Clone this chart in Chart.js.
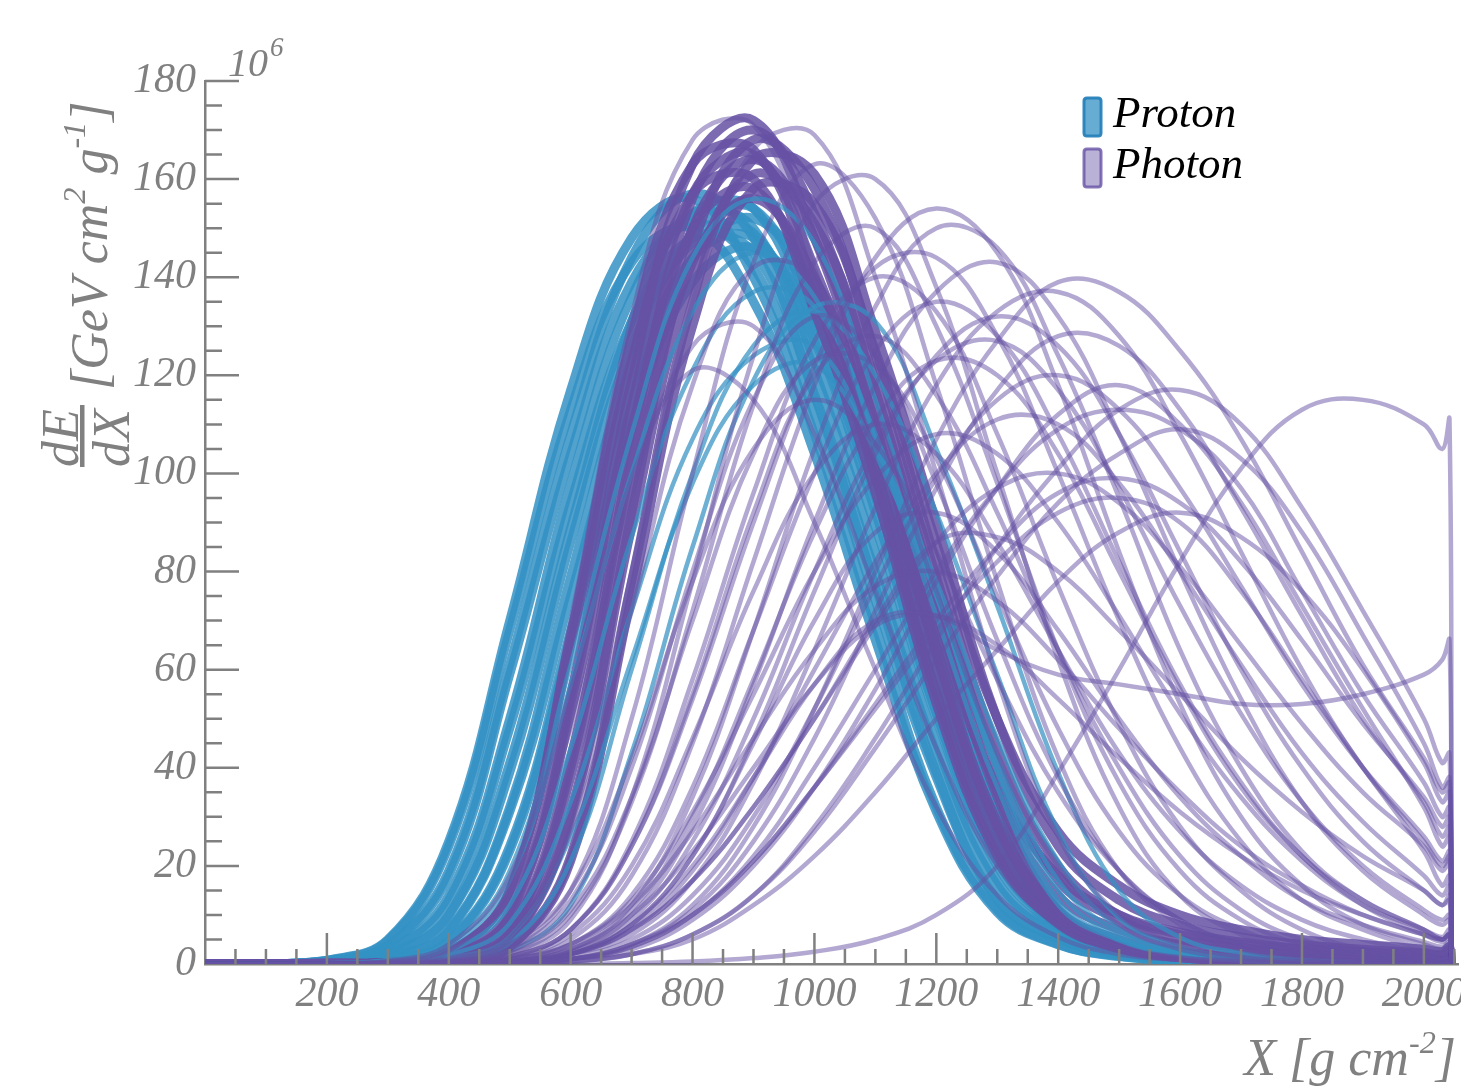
<!DOCTYPE html>
<html>
<head>
<meta charset="utf-8">
<script src="https://cdn.jsdelivr.net/npm/chart.js@4.4.1/dist/chart.umd.min.js"></script>
<style>
  html, body { margin: 0; padding: 0; background: #fff; }
  #wrap { width: 1461px; height: 1088px; position: relative; }
</style>
</head>
<body>
<div id="wrap"><canvas id="profiles"></canvas></div>
<script>
// depth grid (g cm^-2); every profile row below has one value per grid point
const xGrid = [0, 100, 200, 300, 400, 500, 600, 700, 800, 900, 1000, 1100, 1200, 1300, 1400,
  1500, 1600, 1700, 1800, 1900, 2000, 2030, 2042, 2045];

const xTickValues = [200, 400, 600, 800, 1000, 1200, 1400, 1600, 1800, 2000];
const yTickValues = [0, 20, 40, 60, 80, 100, 120, 140, 160, 180];

// dE/dX in units of 1e6 GeV cm^2 g^-1
const protonBand = [
  [0, 0, 0.8, 5, 25, 70, 117, 148, 156, 140, 108, 69, 32, 11, 4, 1.6, 0.6, 0.2, 0, 0, 0, 0, 0, 0],
  [0, 0, 0.7, 4.8, 24, 68, 113, 143, 150, 135, 104, 66, 31, 10.5, 3.9, 1.5, 0.6, 0.2, 0, 0, 0, 0, 0, 0],
  [0, 0, 0.6, 3.9, 19, 61, 108, 144, 157, 148, 116, 77, 39, 13, 5.2, 2, 0.8, 0.2, 0, 0, 0, 0, 0, 0],
  [0, 0, 0.6, 3.8, 18, 59, 104, 139, 151, 142, 112, 74, 38, 13, 5, 2, 0.8, 0.2, 0, 0, 0, 0, 0, 0],
  [0, 0, 0.5, 2.9, 14, 50, 98, 136, 153, 150, 121, 84, 45, 17, 6.2, 2.5, 0.9, 0.3, 0, 0, 0, 0, 0, 0],
  [0, 0, 0.5, 2.8, 13, 48, 94, 131, 148, 145, 116, 80, 43, 16, 6, 2.4, 0.9, 0.3, 0, 0, 0, 0, 0, 0],
  [0, 0, 0.4, 2.2, 10, 41, 89, 131, 153, 154, 128, 92, 51, 21, 7.8, 3, 1.2, 0.5, 0.2, 0, 0, 0, 0, 0],
  [0, 0, 0.4, 2.1, 9.8, 39, 86, 126, 147, 149, 123, 89, 50, 20, 7.5, 2.9, 1.2, 0.5, 0.2, 0, 0, 0, 0, 0],
  [0, 0, 0.3, 1.5, 7, 32, 79, 123, 149, 154, 132, 99, 59, 26, 9, 3.4, 1.4, 0.6, 0.2, 0, 0, 0, 0, 0],
  [0, 0, 0.3, 1.5, 6.8, 31, 75, 118, 144, 148, 127, 95, 56, 25, 8.9, 3.3, 1.3, 0.6, 0.2, 0, 0, 0, 0, 0],
  [0, 0, 0.2, 1.1, 4.9, 24, 68, 114, 144, 152, 137, 105, 67, 31, 11, 4, 1.5, 0.6, 0.2, 0, 0, 0, 0, 0],
  [0, 0, 0.1, 1, 4.7, 23, 66, 110, 139, 146, 131, 101, 64, 30, 10, 3.8, 1.5, 0.6, 0.1, 0, 0, 0, 0, 0]
];

const protonLate = [
  [0, 0, 0.1, 0.7, 3.6, 17, 57, 100, 133, 145, 136, 107, 71, 36, 12, 4.8, 1.9, 0.7, 0.2, 0, 0, 0, 0, 0],
  [0, 0, 0.1, 0.6, 2.6, 12, 44, 87, 121, 137, 134, 108, 75, 40, 15, 5.5, 2.2, 0.8, 0.3, 0, 0, 0, 0, 0],
  [0, 0, 0.1, 0.4, 1.8, 8.3, 33, 72, 107, 124, 126, 104, 75, 42, 17, 6.4, 2.4, 1, 0.4, 0.1, 0, 0, 0, 0],
  [0, 0, 0, 0.1, 0.9, 4.3, 21, 60, 100, 126, 133, 120, 92, 59, 27, 9.3, 3.5, 1.3, 0.5, 0.1, 0, 0, 0, 0],
  [0, 0, 0.2, 0.8, 3.9, 19, 61, 108, 144, 156, 147, 115, 76, 39, 13, 5.1, 2, 0.8, 0.2, 0, 0, 0, 0, 0],
  [0, 0, 0, 0.2, 1.2, 5.6, 26, 62, 98, 118, 122, 105, 78, 46, 21, 7.3, 2.7, 1.1, 0.5, 0.1, 0, 0, 0, 0],
  [0, 0, 0, 0.1, 0.5, 2.6, 12, 43, 85, 119, 134, 131, 105, 73, 39, 15, 5.4, 2.2, 0.8, 0.3, 0, 0, 0, 0]
];

const photonBand = [
  [0, 0, 0.2, 0.3, 2.4, 15, 67, 128, 163, 166, 138, 99, 55, 23, 8.4, 3.2, 1.3, 0.5, 0.2, 0, 0, 0, 0, 0],
  [0, 0, 0.2, 0.3, 2.3, 15, 65, 123, 157, 160, 133, 96, 53, 22, 8.1, 3.1, 1.3, 0.5, 0.2, 0, 0, 0, 0, 0],
  [0, 0, 0, 0.3, 1.5, 11, 55, 119, 163, 172, 148, 110, 65, 29, 11, 5, 2.5, 1.5, 1, 0.7, 0.5, 0.4, 0.6, 0],
  [0, 0, 0, 0.2, 1.5, 10, 53, 114, 157, 165, 142, 106, 63, 28, 9.9, 3.6, 1.5, 0.7, 0.2, 0, 0, 0, 0, 0],
  [0, 0, 0, 0.2, 1, 6.8, 42, 105, 156, 170, 153, 117, 75, 35, 14, 7, 4, 2.5, 1.8, 1.3, 1, 0.8, 1.2, 0],
  [0, 0, 0, 0.2, 1, 6.6, 40, 102, 150, 164, 148, 113, 72, 34, 11, 4.3, 1.6, 0.7, 0.2, 0, 0, 0, 0, 0],
  [0, 0, 0, 0.1, 0.7, 4.7, 31, 92, 146, 168, 158, 124, 82, 44, 20, 10, 6, 4, 3, 2.2, 1.6, 1.4, 2, 0],
  [0, 0, 0, 0.1, 0.6, 4.5, 30, 89, 140, 161, 151, 119, 79, 40, 17, 9, 5, 3.3, 2.4, 1.8, 1.3, 1.1, 1.6, 0],
  [0, 0, 0, 0.1, 0.5, 3.5, 22, 78, 135, 164, 161, 129, 90, 50, 24, 13, 8, 5.5, 4, 3, 2.3, 2, 3, 0],
  [0, 0, 0, 0.1, 0.5, 3.4, 21, 75, 130, 158, 155, 125, 86, 50, 27, 16, 10, 7, 5, 4, 3, 2.5, 3.5, 0],
  [0, 0, 0, 0.2, 1.4, 9.8, 51, 109, 150, 158, 136, 101, 60, 27, 9.5, 3.5, 1.4, 0.6, 0.2, 0, 0, 0, 0, 0],
  [0, 0, 0, 0.2, 0.9, 6.2, 38, 97, 143, 156, 140, 108, 69, 36, 18, 10, 6.5, 4.5, 3.2, 2.5, 2, 1.7, 2.5, 0]
];

const photonSpread = [
  [0, 0, 0.2, 0.4, 2.6, 16, 70, 132, 168, 171, 142, 102, 57, 24, 9, 3.5, 1.4, 0.6, 0.2, 0, 0, 0, 0, 0],
  [0, 0, 0, 0.2, 1, 5, 28, 80, 135, 166, 169, 140, 100, 58, 26, 10, 4, 1.5, 0.5, 0.2, 0, 0, 0, 0],
  [0, 0, 0, 0, 0.5, 3, 15, 50, 100, 143, 163, 152, 118, 78, 42, 19, 8, 3, 1.2, 0.5, 0.2, 0.1, 0.2, 0],
  [0, 0, 0, 0, 0.3, 2, 9, 34, 78, 124, 155, 160, 138, 100, 62, 32, 14, 6, 2.5, 1, 0.5, 0.3, 0.5, 0],
  [0, 0, 0, 0, 0.2, 1, 5, 18, 45, 82, 118, 144, 154, 145, 118, 84, 53, 30, 16, 8, 4, 3, 4, 0],
  [0, 0, 0, 0, 0, 0.5, 3, 12, 34, 68, 105, 134, 150, 146, 124, 95, 64, 40, 23, 13, 7, 5, 6, 0],
  [0, 0, 0, 0, 0, 0.3, 1, 4, 12, 28, 52, 80, 107, 127, 139, 137, 125, 107, 84, 61, 42, 35, 37, 0],
  [0, 0, 0, 0, 0, 0.5, 2, 6, 17, 37, 64, 93, 118, 133, 137, 128, 108, 84, 60, 40, 25, 20, 22, 0],
  [0, 0, 0, 0, 0.3, 1.5, 7, 24, 54, 90, 122, 142, 144, 128, 100, 70, 44, 25, 13, 7, 3, 2, 3, 0],
  [0, 0, 0, 0, 0, 0.5, 2.5, 10, 28, 57, 90, 118, 137, 143, 132, 108, 80, 54, 33, 19, 10, 8, 9, 0],
  [0, 0, 0, 0, 0.5, 3, 13, 40, 80, 115, 132, 124, 98, 66, 38, 19, 9, 4, 1.5, 0.6, 0.3, 0.2, 0.3, 0],
  [0, 0, 0, 0, 0.3, 1.5, 7, 24, 55, 92, 120, 128, 116, 92, 64, 40, 22, 11, 5, 2.5, 1, 0.8, 1.2, 0],
  [0, 0, 0, 0, 0, 0.6, 3, 11, 30, 58, 88, 111, 123, 120, 104, 80, 56, 36, 22, 12, 6, 4.5, 5.5, 0],
  [0, 0, 0, 0, 0, 0.4, 2, 8, 22, 46, 76, 104, 124, 132, 126, 108, 84, 60, 40, 25, 15, 12, 13, 0],
  [0, 0, 0, 0, 0, 0, 0.5, 2, 6, 14, 28, 46, 66, 85, 101, 113, 117, 110, 93, 72, 50, 41, 43, 0],
  [0, 0, 0, 0, 0, 0.3, 1, 3.5, 10, 22, 40, 60, 80, 97, 109, 113, 109, 97, 76, 55, 37, 30, 32, 0],
  [0, 0, 0, 0, 0, 0.3, 1, 3.5, 10, 21, 36, 53, 70, 85, 96, 99, 94, 82, 66, 49, 34, 28, 30, 0],
  [0, 0, 0, 0, 0, 0, 0.5, 2, 5, 12, 22, 35, 50, 64, 78, 88, 92, 87, 76, 60, 41, 33, 35, 0],
  [0, 0, 0, 0, 0.2, 1, 4, 12, 27, 46, 64, 77, 80, 74, 62, 48, 35, 24, 16, 10, 6, 5, 6, 0],
  [0, 0, 0, 0, 0, 0.3, 2, 8, 20, 38, 57, 70, 71, 64, 59, 57, 55, 53, 53, 55, 59, 62, 66, 0],
  [0, 0, 0, 0, 0, 0.5, 3, 10, 23, 40, 57, 69, 71, 65, 54, 42, 31, 22, 15, 10, 6, 5, 6, 0],
  [0, 0, 0, 0, 0, 0.3, 2, 7, 17, 32, 50, 70, 86, 87, 80, 68, 55, 42, 31, 22, 15, 12, 14, 0],
  [0, 0, 0, 0, 0, 0, 0, 0.2, 0.5, 1.2, 2.5, 5, 10, 20, 39, 60, 82, 101, 113, 115, 110, 105, 111, 0],
  [0, 0, 0, 0, 0, 0, 0.5, 2, 6, 14, 27, 44, 62, 79, 94, 104, 109, 103, 88, 67, 45, 36, 38, 0],
  [0, 0, 0, 0, 0, 0.3, 1.5, 5, 14, 30, 52, 77, 99, 115, 120, 113, 97, 77, 57, 40, 26, 21, 23, 0],
  [0, 0, 0, 0, 0, 0.5, 2, 7, 19, 38, 60, 82, 100, 111, 110, 98, 80, 61, 43, 29, 18, 14, 16, 0],
  [0, 0, 0, 0, 0, 0.3, 1, 4, 11, 25, 46, 72, 97, 117, 128, 126, 113, 93, 71, 50, 33, 26, 28, 0],
  [0, 0, 0, 0, 0.2, 1, 4, 14, 36, 68, 100, 125, 135, 128, 108, 82, 57, 37, 22, 13, 7, 5, 6, 0],
  [0, 0, 0, 0, 0, 0.5, 2, 7, 17, 32, 50, 69, 86, 97, 100, 94, 81, 65, 49, 35, 24, 19, 21, 0],
  [0, 0, 0, 0, 0.4, 2, 10, 33, 72, 114, 143, 150, 130, 98, 64, 37, 19, 9, 4, 2, 1, 0.8, 1, 0],
  [0, 0, 0, 0, 0.6, 4, 15, 42, 78, 105, 115, 106, 84, 58, 35, 19, 9, 4, 2, 1, 0.4, 0.3, 0.4, 0],
  [0, 0, 0, 0.2, 1.2, 6, 27, 72, 118, 142, 140, 112, 76, 43, 20, 8, 3, 1.2, 0.5, 0.2, 0, 0, 0, 0],
  [0, 0, 0, 0, 0.3, 1.5, 7, 25, 58, 96, 127, 140, 133, 108, 77, 49, 28, 15, 7, 3, 1.5, 1, 1.5, 0],
  [0, 0, 0, 0, 0, 0.2, 1, 3, 9, 20, 36, 56, 78, 97, 112, 118, 110, 94, 73, 52, 32, 24, 26, 0],
  [0, 0, 0, 0, 0, 0.5, 2.5, 9, 25, 50, 80, 106, 123, 127, 117, 97, 73, 51, 33, 20, 11, 9, 10, 0],
  [0, 0, 0, 0, 0.2, 1, 4, 13, 31, 55, 80, 99, 108, 104, 90, 71, 51, 34, 21, 12, 7, 5.5, 7, 0],
  [0, 0, 0, 0, 0.4, 2.5, 11, 34, 70, 104, 123, 122, 103, 75, 48, 27, 14, 7, 3, 1.5, 0.7, 0.5, 0.7, 0],
  [0, 0, 0, 0, 0, 0.3, 1, 4, 10, 21, 36, 52, 68, 82, 92, 95, 90, 76, 58, 40, 23, 16, 18, 0],
  [0, 0, 0.1, 0.5, 3, 14, 48, 96, 126, 130, 108, 76, 44, 20, 8, 3, 1.2, 0.5, 0.2, 0, 0, 0, 0, 0],
  [0, 0, 0.1, 0.6, 4, 18, 56, 99, 121, 115, 90, 60, 32, 14, 5.5, 2, 0.8, 0.3, 0, 0, 0, 0, 0, 0],
  [0, 0, 0, 0, 0, 0.3, 2, 8, 22, 45, 70, 88, 92, 84, 68, 50, 34, 22, 13, 8, 4.5, 3.5, 4.5, 0],
  [0, 0, 0, 0, 0.2, 1.2, 6, 20, 46, 76, 100, 110, 104, 86, 64, 43, 27, 16, 9, 5, 2.5, 2, 3, 0]
];

const protonSolid = 'rgba(52,146,196,0.85)';
const protonLine = 'rgba(52,146,196,0.72)';
const photonSolid = 'rgba(102,81,164,0.85)';
const photonLight = 'rgba(102,81,164,0.5)';
const axisGrey = '#808080';
const serif = '"Liberation Serif", "DejaVu Serif", serif';

function toPoints(row) {
  return xGrid.map((x, i) => ({ x: x, y: row[i] }));
}

function makeSets(rows, color, width) {
  return rows.map(row => ({
    data: toPoints(row),
    borderColor: color,
    borderWidth: width,
    pointRadius: 0,
    fill: false,
    tension: 0.4
  }));
}

// Chart.js paints dataset 0 last, so the list runs from the top layer down;
// thick strokes for the two dense bundles so they read as solid bands
const datasets = [].concat(
  makeSets(photonSpread, photonLight, 4.5),
  makeSets(protonLate, protonLine, 4.5),
  makeSets(photonBand, photonSolid, 9),
  makeSets(protonBand, protonSolid, 9)
);

function drawRuns(ctx, runs, size, measureOnly) {
  let x = 0;
  runs.forEach(r => {
    const s = r.sup ? size * 0.62 : size;
    ctx.font = 'italic ' + s + 'px ' + serif;
    if (!measureOnly) ctx.fillText(r.t, x, r.sup ? -size * 0.42 : 0);
    x += ctx.measureText(r.t).width;
  });
  return x;
}

function roundBox(ctx, x, y, w, h, r) {
  ctx.beginPath();
  ctx.moveTo(x + r, y);
  ctx.lineTo(x + w - r, y);
  ctx.quadraticCurveTo(x + w, y, x + w, y + r);
  ctx.lineTo(x + w, y + h - r);
  ctx.quadraticCurveTo(x + w, y + h, x + w - r, y + h);
  ctx.lineTo(x + r, y + h);
  ctx.quadraticCurveTo(x, y + h, x, y + h - r);
  ctx.lineTo(x, y + r);
  ctx.quadraticCurveTo(x, y, x + r, y);
  ctx.closePath();
}

const decorations = {
  id: 'decorations',
  afterDatasetsDraw(chart) {
    const ctx = chart.ctx;
    const xs = chart.scales.x, ys = chart.scales.y;
    ctx.save();
    ctx.strokeStyle = axisGrey;
    ctx.lineWidth = 2.5;
    ctx.beginPath();
    for (let v = 50; v <= 2050; v += 50) {
      const px = xs.getPixelForValue(v);
      const len = v % 200 === 0 ? 31 : 15;
      ctx.moveTo(px, ys.bottom);
      ctx.lineTo(px, ys.bottom - len);
    }
    for (let v = 5; v <= 180; v += 5) {
      const py = ys.getPixelForValue(v);
      const len = v % 20 === 0 ? 34 : 17;
      ctx.moveTo(xs.left, py);
      ctx.lineTo(xs.left + len, py);
    }
    ctx.stroke();
    ctx.restore();
  },
  afterDraw(chart) {
    const ctx = chart.ctx;
    ctx.save();
    ctx.fillStyle = axisGrey;
    ctx.textBaseline = 'alphabetic';

    // y title: fraction dE/dX then units
    ctx.font = 'italic 52px ' + serif;
    ctx.textAlign = 'center';
    ctx.save(); ctx.translate(78, 438); ctx.rotate(-Math.PI / 2); ctx.fillText('dE', 0, 0); ctx.restore();
    ctx.save(); ctx.translate(129, 438); ctx.rotate(-Math.PI / 2); ctx.fillText('dX', 0, 0); ctx.restore();
    ctx.fillRect(80, 405, 4.5, 62);
    ctx.textAlign = 'left';
    ctx.save();
    ctx.translate(107, 390);
    ctx.rotate(-Math.PI / 2);
    drawRuns(ctx, [{ t: '[GeV cm' }, { t: '2', sup: true }, { t: ' g' }, { t: '-1', sup: true }, { t: ']' }], 52);
    ctx.restore();

    // 10^6 multiplier
    ctx.font = 'italic 40px ' + serif;
    ctx.fillText('10', 228, 76);
    const w10 = ctx.measureText('10').width;
    ctx.font = 'italic 27px ' + serif;
    ctx.fillText('6', 228 + w10 + 2, 56);

    // x title
    const xRuns = [{ t: 'X [g cm' }, { t: '-2', sup: true }, { t: ']' }];
    const wx = drawRuns(ctx, xRuns, 52, true);
    ctx.save();
    ctx.translate(1456 - wx, 1075);
    drawRuns(ctx, xRuns, 52);
    ctx.restore();

    // legend
    const items = [
      { label: 'Proton', fill: 'rgba(52,146,196,0.75)', edge: 'rgba(40,130,185,0.95)', y: 98, base: 127 },
      { label: 'Photon', fill: 'rgba(102,81,164,0.45)', edge: 'rgba(102,81,164,0.8)', y: 149, base: 178 }
    ];
    items.forEach(it => {
      roundBox(ctx, 1084, it.y, 17, 38, 3);
      ctx.fillStyle = it.fill;
      ctx.fill();
      ctx.lineWidth = 3;
      ctx.strokeStyle = it.edge;
      ctx.stroke();
      ctx.fillStyle = '#000';
      ctx.font = 'italic 45px ' + serif;
      ctx.fillText(it.label, 1113, it.base);
    });
    ctx.restore();
  }
};

const tickFont = { family: serif, style: 'italic', size: 42 };

new Chart(document.getElementById('profiles'), {
  type: 'line',
  data: { datasets: datasets },
  options: {
    responsive: true,
    maintainAspectRatio: false,
    animation: false,
    events: [],
    layout: { padding: { top: 81, right: 3, left: 0, bottom: 0 } },
    plugins: { legend: { display: false }, tooltip: { enabled: false } },
    scales: {
      x: {
        type: 'linear',
        min: 0,
        max: 2056,
        grid: { display: false, drawTicks: false },
        border: { display: true, color: axisGrey, width: 2.5 },
        ticks: { font: tickFont, color: axisGrey, padding: 6, maxRotation: 0, autoSkip: false,
          callback: v => String(v) },
        afterBuildTicks(scale) { scale.ticks = xTickValues.map(v => ({ value: v })); },
        afterFit(scale) { scale.height = 124; scale.paddingLeft = 0; scale.paddingRight = 0; }
      },
      y: {
        type: 'linear',
        min: 0,
        max: 180,
        grid: { display: false, drawTicks: false },
        border: { display: true, color: axisGrey, width: 2.5 },
        ticks: { font: tickFont, color: axisGrey, padding: 9, callback: v => String(v) },
        afterBuildTicks(scale) { scale.ticks = yTickValues.map(v => ({ value: v })); },
        afterFit(scale) { scale.width = 205; scale.paddingTop = 0; scale.paddingBottom = 0; }
      }
    }
  },
  plugins: [decorations]
});
</script>
</body>
</html>
